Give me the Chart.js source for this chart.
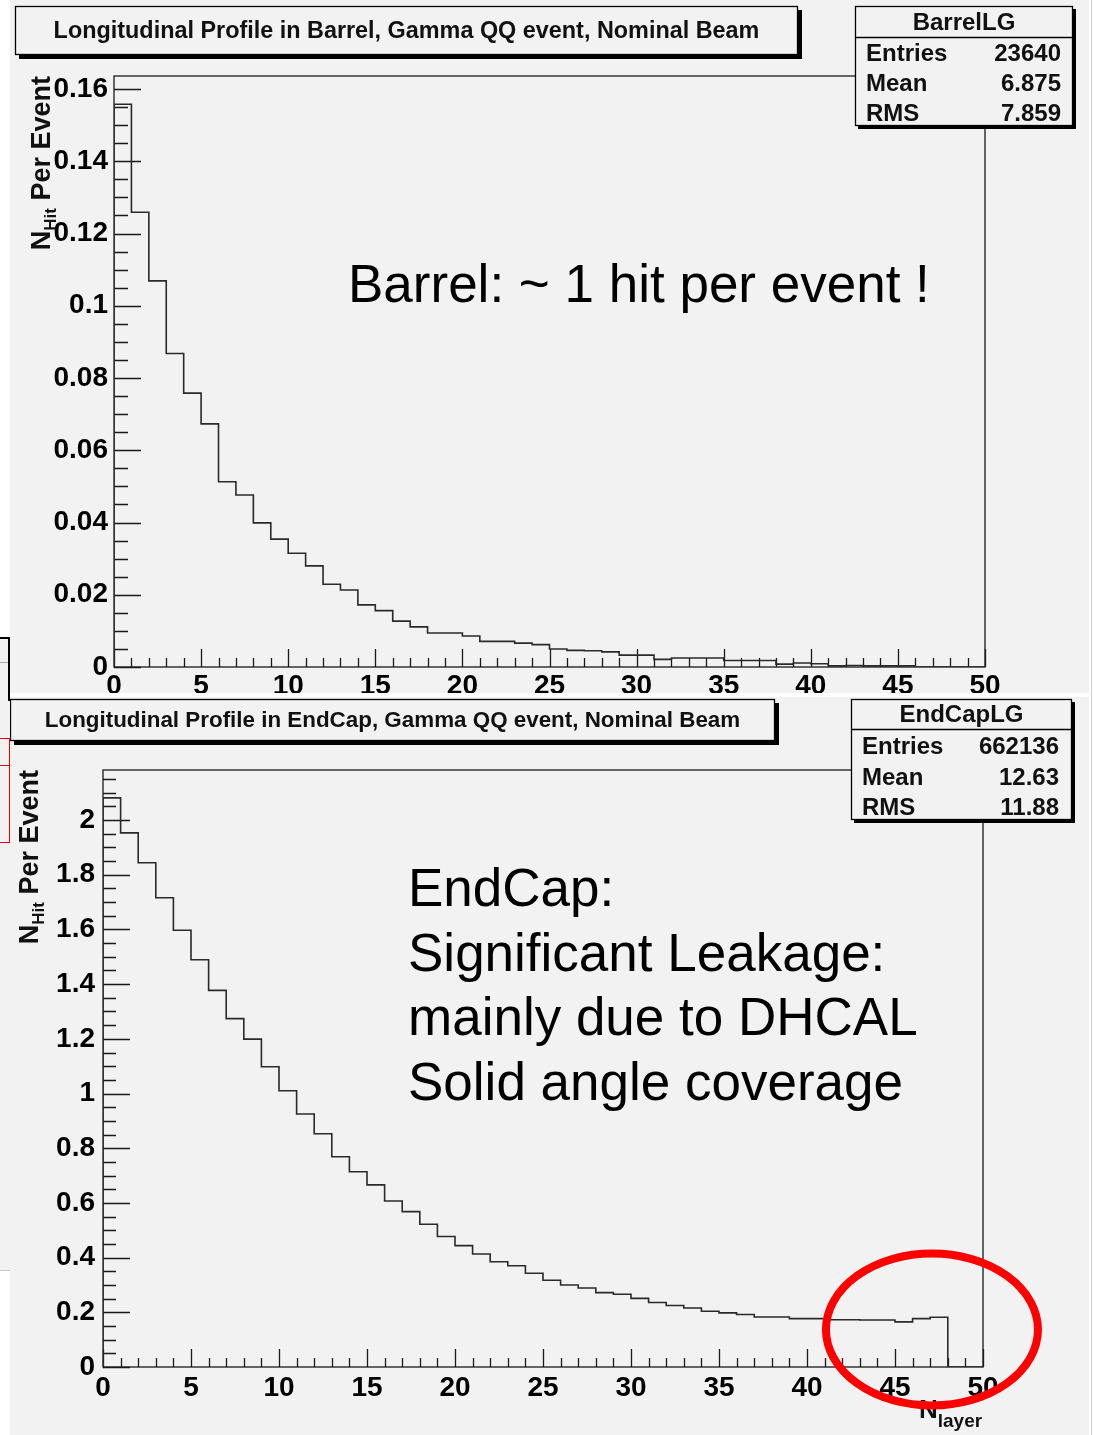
<!DOCTYPE html>
<html>
<head>
<meta charset="utf-8">
<title>Longitudinal Profile, Gamma QQ event</title>
<script src="https://cdn.jsdelivr.net/npm/chart.js@4.4.1/dist/chart.umd.min.js"></script>
<style>
  html, body { margin: 0; padding: 0; background: #fff; }
  body { position: relative; width: 1094px; height: 1435px; overflow: hidden; }
  canvas { position: absolute; background: #f2f2f2; }
  #barrel { left: 10px; top: 0; }
  #endcap { left: 10px; top: 697px; }
  .edge { position: absolute; box-sizing: border-box; }
</style>
</head>
<body>
<!-- strip of a neighbouring pad peeking in at the left, and the page edge on the right -->
<div class="edge" style="left:0;top:637px;width:10px;height:634px;background:#f2f2f2;border-bottom:1px solid #c8c8c8;"></div>
<div class="edge" style="left:0;top:637px;width:10px;height:64px;border-top:2px solid #000;border-right:2px solid #000;"></div>
<div class="edge" style="left:0;top:662px;width:8px;height:1px;background:#aaa;"></div>
<div class="edge" style="left:-1px;top:738px;width:11px;height:105px;border:1px solid #e00;"></div>
<div class="edge" style="left:0;top:765px;width:10px;height:1px;background:#e00;"></div>
<div class="edge" style="left:1091px;top:0;width:1px;height:1435px;background:#cfcfcf;"></div>

<canvas id="barrel" width="1079" height="693"></canvas>
<canvas id="endcap" width="1079" height="738"></canvas>

<script>
// ---- data: hits per event in each calorimeter layer (bins of width 1, layers 0..49) ----
const layers = Array.from({ length: 50 }, (_, i) => i);

const barrelHits = [
  0.1558, 0.1259, 0.1069, 0.0868, 0.0758, 0.0673, 0.0513, 0.0476, 0.0399, 0.0354,
  0.0315, 0.0280, 0.0229, 0.0213, 0.0172, 0.0156, 0.0127, 0.0111, 0.0094, 0.0094,
  0.0086, 0.0071, 0.0071, 0.0066, 0.0062, 0.0050, 0.0046, 0.0045, 0.0042, 0.0033,
  0.0033, 0.0021, 0.0025, 0.0025, 0.0025, 0.0018, 0.0018, 0.0018, 0.0008, 0.0011,
  0.0009, 0.0003, 0.0004, 0.0003, 0.0003, 0.0003, 0, 0, 0, 0
];

const endcapHits = [
  2.081, 1.953, 1.844, 1.716, 1.597, 1.489, 1.377, 1.274, 1.199, 1.098,
  1.010, 0.925, 0.853, 0.769, 0.714, 0.666, 0.607, 0.568, 0.522, 0.477,
  0.444, 0.413, 0.385, 0.370, 0.343, 0.317, 0.300, 0.289, 0.272, 0.266,
  0.251, 0.236, 0.225, 0.216, 0.204, 0.198, 0.192, 0.183, 0.183, 0.177,
  0.177, 0.173, 0.173, 0.172, 0.172, 0.165, 0.177, 0.182, 0, 0
];

// ---- axis ticks ----
const xTicks = [0, 5, 10, 15, 20, 25, 30, 35, 40, 45, 50];
const xTickLabels = ['0', '5', '10', '15', '20', '25', '30', '35', '40', '45', '50'];
const barrelYTicks = [0, 0.02, 0.04, 0.06, 0.08, 0.1, 0.12, 0.14, 0.16];
const barrelYTickLabels = ['0', '0.02', '0.04', '0.06', '0.08', '0.1', '0.12', '0.14', '0.16'];
const endcapYTicks = [0, 0.2, 0.4, 0.6, 0.8, 1, 1.2, 1.4, 1.6, 1.8, 2];
const endcapYTickLabels = ['0', '0.2', '0.4', '0.6', '0.8', '1', '1.2', '1.4', '1.6', '1.8', '2'];

// ---- statistics boxes ----
const barrelStats = { name: 'BarrelLG', rows: [['Entries', '23640'], ['Mean', '6.875'], ['RMS', '7.859']] };
const endcapStats = { name: 'EndCapLG', rows: [['Entries', '662136'], ['Mean', '12.63'], ['RMS', '11.88']] };

const FONT = '"Liberation Sans", Arial, Helvetica, sans-serif';
const BG = '#f2f2f2';

// histogram outline: one point per bin low edge; with stepped 'before' each
// value is held horizontally up to the next edge, then the line drops/rises
function histPoints(values) {
  const pts = [{ x: layers[0], y: 0 }];
  values.forEach((v, i) => pts.push({ x: layers[i], y: v }));
  pts.push({ x: layers[layers.length - 1] + 1, y: 0 });
  return pts;
}

function shadowBox(ctx, b, sh) {
  ctx.fillStyle = '#000';
  ctx.fillRect(b.x + sh, b.y + sh, b.w, b.h);
  ctx.fillStyle = BG;
  ctx.fillRect(b.x, b.y, b.w, b.h);
  ctx.strokeStyle = '#000';
  ctx.lineWidth = 1.3;
  ctx.strokeRect(b.x + 0.5, b.y + 0.5, b.w - 1, b.h - 1);
}

// frame, inward ticks, titles, stats and notes drawn around the histogram
const rootPad = {
  id: 'rootPad',
  beforeDatasetsDraw(chart, args, o) {
    const { ctx, chartArea: a, scales: { x, y } } = chart;
    ctx.save();
    ctx.strokeStyle = '#1a1a1a';
    ctx.lineWidth = 1.3;
    ctx.strokeRect(a.left, a.top, a.right - a.left, a.bottom - a.top);
    ctx.beginPath();
    const nx = Math.round((x.max - x.min) / o.xMinor);
    for (let i = 0; i <= nx; i++) {
      const v = x.min + i * o.xMinor;
      const px = Math.round(x.getPixelForValue(v)) + 0.5;
      const len = xTicks.includes(v) ? o.xMajorLen : o.xMinorLen;
      ctx.moveTo(px, a.bottom);
      ctx.lineTo(px, a.bottom - len);
    }
    const ny = Math.floor((y.max - y.min) / o.yMinor + 1e-6);
    for (let i = 0; i <= ny; i++) {
      const v = y.min + i * o.yMinor;
      const py = Math.round(y.getPixelForValue(v)) + 0.5;
      const len = (i % o.yPerMajor === 0) ? o.yMajorLen : o.yMinorLen;
      ctx.moveTo(a.left, py);
      ctx.lineTo(a.left + len, py);
    }
    ctx.stroke();
    ctx.restore();
  },
  afterDraw(chart, args, o) {
    const { ctx, chartArea: a, scales: { x, y } } = chart;
    ctx.save();

    // title box
    shadowBox(ctx, o.title, 4);
    ctx.fillStyle = '#111';
    ctx.font = `bold ${o.title.size}px ${FONT}`;
    ctx.textAlign = 'center';
    ctx.textBaseline = 'middle';
    ctx.fillText(o.title.text, o.title.x + o.title.w / 2, o.title.y + o.title.h / 2 + 1);

    // statistics box
    const s = o.stats;
    shadowBox(ctx, s, 3);
    ctx.beginPath();
    ctx.moveTo(s.x, s.y + s.sep + 0.5);
    ctx.lineTo(s.x + s.w, s.y + s.sep + 0.5);
    ctx.stroke();
    ctx.fillStyle = '#111';
    ctx.font = `bold ${s.size}px ${FONT}`;
    ctx.textAlign = 'center';
    ctx.fillText(s.data.name, s.x + s.w / 2, s.y + s.head);
    s.data.rows.forEach((r, i) => {
      ctx.textAlign = 'left';
      ctx.fillText(r[0], s.x + s.padL, s.y + s.rows[i]);
      ctx.textAlign = 'right';
      ctx.fillText(r[1], s.x + s.w - s.padR, s.y + s.rows[i]);
    });

    // y-axis title, rotated, ending at the top of the frame
    const t = o.yTitle;
    ctx.translate(t.x, a.top);
    ctx.rotate(-Math.PI / 2);
    ctx.textAlign = 'left';
    ctx.textBaseline = 'alphabetic';
    const big = `bold ${t.size}px ${FONT}`, small = `bold ${Math.round(t.size * 0.62)}px ${FONT}`;
    ctx.font = big;
    const wN = ctx.measureText('N').width, wRest = ctx.measureText(' Per Event').width;
    ctx.font = small;
    const wSub = ctx.measureText('Hit').width;
    let cx = -(wN + wSub + wRest);
    ctx.font = big; ctx.fillText('N', cx, 0); cx += wN;
    ctx.font = small; ctx.fillText('Hit', cx, t.size * 0.22); cx += wSub;
    ctx.font = big; ctx.fillText(' Per Event', cx, 0);
    ctx.setTransform(1, 0, 0, 1, 0, 0);

    // x-axis title
    if (o.xTitle) {
      const xt = o.xTitle;
      ctx.font = `bold ${xt.size}px ${FONT}`;
      ctx.fillText('N', xt.x, xt.y);
      const w = ctx.measureText('N').width;
      ctx.font = `bold ${xt.subSize}px ${FONT}`;
      ctx.fillText('layer', xt.x + w, xt.y + xt.subDrop);
    }

    // notes
    ctx.fillStyle = '#000';
    ctx.font = `${o.note.size}px ${FONT}`;
    o.note.lines.forEach((line, i) => ctx.fillText(line, o.note.x, o.note.y + i * o.note.step));

    // highlight ring around the last layers
    if (o.ring) {
      ctx.strokeStyle = '#ff0000';
      ctx.lineWidth = o.ring.width;
      ctx.beginPath();
      ctx.ellipse(x.getPixelForValue(o.ring.cx), y.getPixelForValue(o.ring.cy), o.ring.rx, o.ring.ry, 0, 0, Math.PI * 2);
      ctx.stroke();
    }
    ctx.restore();
  }
};

function makeHist(id, values, cfg) {
  const tickFont = { family: FONT, weight: 'bold', size: 28 };
  return new Chart(document.getElementById(id), {
    type: 'line',
    data: {
      datasets: [{
        data: histPoints(values),
        stepped: 'before',
        borderColor: '#2a2a2a',
        borderWidth: 1.6,
        pointRadius: 0,
        fill: false
      }]
    },
    options: {
      responsive: false,
      animation: false,
      devicePixelRatio: 1,
      layout: { padding: { left: 0, top: cfg.area.top, right: cfg.area.right, bottom: 0 } },
      plugins: { legend: { display: false }, tooltip: { enabled: false }, rootPad: cfg.pad },
      scales: {
        x: {
          type: 'linear', min: 0, max: 50,
          afterBuildTicks: s => { s.ticks = xTicks.map(v => ({ value: v })); },
          afterFit: s => { s.height = cfg.area.xHeight; },
          grid: { display: false, drawTicks: false },
          border: { display: false },
          ticks: { font: tickFont, color: '#000', padding: cfg.area.xPad, maxRotation: 0, autoSkip: false,
                   callback: (v, i) => xTickLabels[i] }
        },
        y: {
          type: 'linear', min: 0, max: cfg.yMax,
          afterBuildTicks: s => { s.ticks = cfg.yTicks.map(v => ({ value: v })); },
          afterFit: s => { s.width = cfg.area.yWidth; },
          grid: { display: false, drawTicks: false },
          border: { display: false },
          ticks: { font: tickFont, color: '#000', padding: cfg.area.yPad, autoSkip: false,
                   callback: (v, i) => cfg.yLabels[i] }
        }
      }
    },
    plugins: [rootPad]
  });
}

makeHist('barrel', barrelHits, {
  yMax: 0.1636,
  yTicks: barrelYTicks,
  yLabels: barrelYTickLabels,
  area: { top: 76, right: 104, xHeight: 26, yWidth: 104, xPad: 2, yPad: 6 },
  pad: {
    xMinor: 1, xMajorLen: 18, xMinorLen: 9,
    yMinor: 0.005, yPerMajor: 4, yMajorLen: 27, yMinorLen: 14,
    title: { x: 5, y: 6, w: 783, h: 49, size: 23.4,
             text: 'Longitudinal Profile in Barrel, Gamma QQ event, Nominal Beam' },
    stats: { x: 845, y: 6, w: 218, h: 120, sep: 31, head: 17, rows: [48, 78, 108],
             padL: 11, padR: 12, size: 24, data: barrelStats },
    yTitle: { x: 40, size: 27 },
    note: { x: 338, y: 302, step: 0, size: 53, lines: ['Barrel: ~ 1 hit per event !'] }
  }
});

makeHist('endcap', endcapHits, {
  yMax: 2.183,
  yTicks: endcapYTicks,
  yLabels: endcapYTickLabels,
  area: { top: 73, right: 106, xHeight: 68, yWidth: 93, xPad: 4, yPad: 8 },
  pad: {
    xMinor: 1, xMajorLen: 18, xMinorLen: 9,
    yMinor: 0.05, yPerMajor: 4, yMajorLen: 27, yMinorLen: 13,
    title: { x: 0, y: 2, w: 765, h: 42, size: 22.4,
             text: 'Longitudinal Profile in EndCap, Gamma QQ event, Nominal Beam' },
    stats: { x: 841, y: 2, w: 221, h: 121, sep: 30, head: 16, rows: [48, 79, 109],
             padL: 11, padR: 13, size: 24, data: endcapStats },
    yTitle: { x: 28, size: 27 },
    xTitle: { x: 909, y: 721, size: 26, subSize: 19, subDrop: 9 },
    note: { x: 398, y: 209, step: 64.7, size: 53,
            lines: ['EndCap:', 'Significant Leakage:', 'mainly due to DHCAL', 'Solid angle coverage'] },
    ring: { cx: 47.1, cy: 0.137, rx: 106, ry: 76, width: 8 }
  }
});
</script>
</body>
</html>
